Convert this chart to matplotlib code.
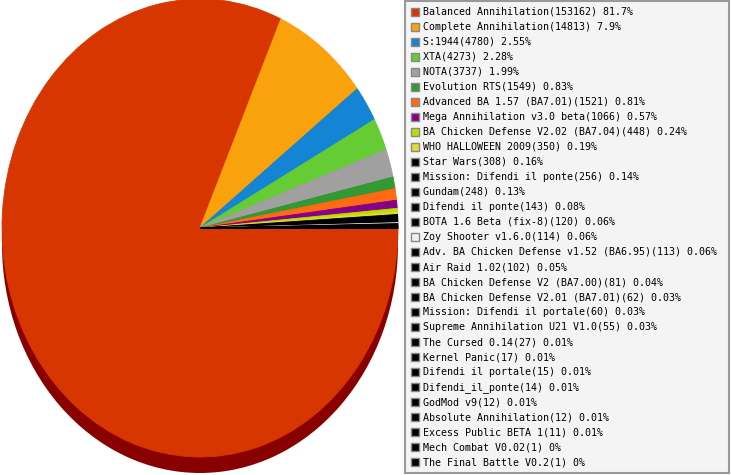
import numpy as np
import matplotlib.pyplot as plt
from matplotlib.patches import Rectangle

names = ["Balanced Annihilation", "Complete Annihilation", "S:1944", "XTA", "NOTA",
	"Evolution RTS", "Advanced BA 1.57 (BA7.01)", "Mega Annihilation v3.0 beta",
	"BA Chicken Defense V2.02 (BA7.04)", "WHO HALLOWEEN 2009", "Star Wars",
	"Mission: Difendi il ponte", "Gundam", "Difendi il ponte", "BOTA 1.6 Beta (fix-8)",
	"Zoy Shooter v1.6.0", "Adv. BA Chicken Defense v1.52 (BA6.95)", "Air Raid 1.02",
	"BA Chicken Defense V2 (BA7.00)", "BA Chicken Defense V2.01 (BA7.01)",
	"Mission: Difendi il portale", "Supreme Annihilation U21 V1.0", "The Cursed 0.14",
	"Kernel Panic", "Difendi il portale", "Difendi_il_ponte", "GodMod v9",
	"Absolute Annihilation", "Excess Public BETA 1", "Mech Combat V0.02",
	"The Final Battle V0.2"]
counts = [153162, 14813, 4780, 4273, 3737, 1549, 1521, 1066, 448, 350, 308, 256, 248,
	143, 120, 114, 113, 102, 81, 62, 60, 55, 27, 17, 15, 14, 12, 12, 11, 1, 1]
pcts = ["81.7%", "7.9%", "2.55%", "2.28%", "1.99%", "0.83%", "0.81%", "0.57%", "0.24%",
	"0.19%", "0.16%", "0.14%", "0.13%", "0.08%", "0.06%", "0.06%", "0.06%", "0.05%",
	"0.04%", "0.03%", "0.03%", "0.03%", "0.01%", "0.01%", "0.01%", "0.01%", "0.01%",
	"0.01%", "0.01%", "0%", "0%"]
colors = ["#d83600", "#f9a20b", "#1484d4", "#66cc33", "#a0a0a0", "#339933", "#ff6a13",
	"#880088", "#bbdd00", "#dddd33"] + ["#000000"] * 21
colors[15] = "#f0f0f0"

W, H = 731, 475
fig = plt.figure(figsize=(W / 100, H / 100), dpi=100)

# pie: ellipse rx=198, ry=229, centre (200, 228) px, shadow 16 px below
rx, ry, depth = 198, 229, 16
cx, cy = 200, 228
ax = fig.add_axes([(cx - rx) / W, (H - (cy + ry + depth)) / H, 2 * rx / W, (2 * ry + depth) / H])
off = depth / ry
ax.pie([1], colors=["#880000"], center=(0, -off), wedgeprops=dict(linewidth=0))
wedges, _ = ax.pie(counts, colors=colors, startangle=0, counterclock=False, center=(0, 0),
	wedgeprops=dict(linewidth=0.6))
for w, c in zip(wedges, colors):
	w.set_edgecolor(c)
ax.set_aspect('auto')
ax.set_xlim(-1, 1)
ax.set_ylim(-1 - off, 1)
ax.axis('off')

# legend drawn in pixel coordinates
lax = fig.add_axes([0, 0, 1, 1])
lax.set_xlim(0, W)
lax.set_ylim(H, 0)
lax.axis('off')
lax.add_patch(Rectangle((405, 1), 324, 472, facecolor="#f4f4f4", edgecolor="#999999", lw=1.5))
for i in range(len(names)):
	y = 11.5 + i * 15.03
	lax.add_patch(Rectangle((411, y - 4), 8, 8, facecolor=colors[i], edgecolor="#888888", lw=1))
	lax.text(423, y, "%s(%d) %s" % (names[i], counts[i], pcts[i]), fontsize=7.2,
		family="DejaVu Sans Mono", va='center', ha='left', color="black")

plt.savefig('out.png', dpi=100)
